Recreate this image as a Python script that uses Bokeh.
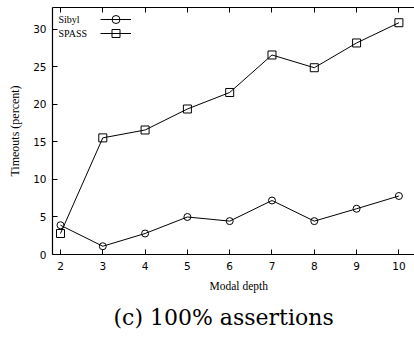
from bokeh.plotting import figure
from bokeh.models import (LinearAxis, FixedTicker, Legend, LegendItem, Label, Range1d, Title)
from bokeh.core.properties import value
from bokeh.embed import file_html
from bokeh.resources import INLINE

depth = [2, 3, 4, 5, 6, 7, 8, 9, 10]
sibyl = [3.9, 1.1, 2.8, 5.0, 4.45, 7.2, 4.45, 6.1, 7.8]
spass = [2.8, 15.55, 16.6, 19.4, 21.6, 26.6, 24.9, 28.2, 30.9]
x_ticks = [2, 3, 4, 5, 6, 7, 8, 9, 10]
y_ticks = [0, 5, 10, 15, 20, 25, 30]
series_names = ["Sibyl", "SPASS"]
x_title = "Modal depth"
y_title = "Timeouts (percent)"
caption = "(c) 100% assertions"

SERIF = "Liberation Serif"
SANS = "DejaVu Sans"

p = figure(width=414, height=337, output_backend="svg", toolbar_location=None,
           x_range=Range1d(1.811, 10.369), y_range=Range1d(0, 32.93),
           min_border_left=52, min_border_right=0, min_border_top=7,
           min_border_bottom=83, x_axis_location=None, y_axis_location=None)
p.outline_line_color = None
p.grid.visible = False
p.background_fill_color = "white"
p.border_fill_color = "white"

def style_axis(ax):
    ax.axis_line_color = "black"
    ax.axis_line_width = 1.2
    ax.major_tick_line_color = "black"
    ax.major_tick_in = 5
    ax.major_tick_out = 0
    ax.minor_tick_line_color = None
    ax.major_label_text_font = SANS
    ax.major_label_text_font_size = "10.5px"
    ax.major_label_text_color = "black"

xb = LinearAxis(ticker=FixedTicker(ticks=x_ticks))
style_axis(xb)
xb.major_label_standoff = 7
p.add_layout(xb, "below")

xt = LinearAxis(ticker=FixedTicker(ticks=x_ticks))
style_axis(xt)
xt.major_label_text_font_size = "1px"
xt.major_label_text_alpha = 0
xt.major_label_standoff = 0
p.add_layout(xt, "above")

yl = LinearAxis(ticker=FixedTicker(ticks=y_ticks))
style_axis(yl)
yl.major_label_standoff = 6
yl.axis_label = y_title
yl.axis_label_text_font = SERIF
yl.axis_label_text_font_size = "12px"
yl.axis_label_text_font_style = "normal"
yl.axis_label_text_color = "black"
yl.axis_label_standoff = 8
p.add_layout(yl, "left")

l1 = p.line(depth, sibyl, line_color="black", line_width=1)
m1 = p.scatter(depth, sibyl, marker="circle", size=7, fill_color=None,
               line_color="black", line_width=1)
l2 = p.line(depth, spass, line_color="black", line_width=1)
m2 = p.scatter(depth, spass, marker="square", size=8, fill_color=None,
               line_color="black", line_width=1)

def make_legend(rends, loc):
    return Legend(items=[LegendItem(label=value(""), renderers=rends)],
                  location=loc, orientation="vertical",
                  glyph_width=31, glyph_height=20, spacing=0,
                  label_width=0, label_standoff=0, label_text_font_size="1px",
                  padding=0, margin=0, border_line_color=None,
                  background_fill_alpha=0)

p.add_layout(make_legend([l1, m1], (48, 225)), "center")
p.add_layout(make_legend([l2, m2], (48, 211)), "center")

p.add_layout(Label(x=1.953, y=31.3, text=series_names[0], text_font=SERIF,
                   text_font_size="10px", text_baseline="middle", text_color="black"))
p.add_layout(Label(x=1.953, y=29.47, text=series_names[1], text_font=SERIF,
                   text_font_size="10px", text_baseline="middle", text_color="black"))

t1 = Title(text=x_title, align="left", offset=157, text_font=SERIF,
           text_font_size="11.5px", text_font_style="normal", text_color="black",
           standoff=11)
t2 = Title(text=caption, align="left", offset=61, text_font="DejaVu Serif",
           text_font_size="22px", text_font_style="normal", text_color="black",
           standoff=10)
p.add_layout(t1, "below")
p.add_layout(t2, "below")

open("out.html", "w").write(file_html(p, INLINE))
